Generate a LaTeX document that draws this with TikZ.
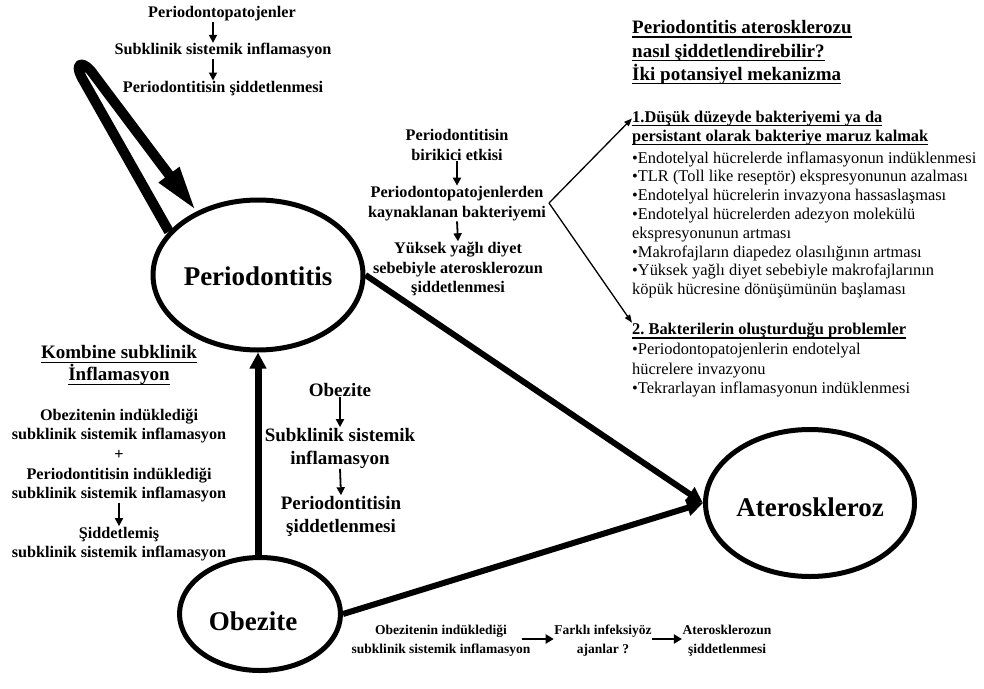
\documentclass[tikz,border=0pt]{standalone}
\usepackage{fontspec}
\setmainfont{Liberation Serif}
\usetikzlibrary{arrows.meta,shapes.geometric}
\frenchspacing
\newsavebox\ulbox
\newcommand\ulx[1]{\leavevmode\sbox\ulbox{#1}\rlap{\rule[-4.2pt]{\wd\ulbox}{1.5pt}}\usebox\ulbox}
\begin{document}
\begin{tikzpicture}[x=1pt,y=-1pt,
  lbl/.style={font=\fontsize{16.2}{19.6}\selectfont\bfseries, align=center, inner sep=0.5pt},
  lbls/.style={font=\fontsize{13.5}{19}\selectfont\bfseries, align=center, inner sep=0.5pt},
  lblm/.style={font=\fontsize{19}{23}\selectfont\bfseries, align=center, inner sep=0.5pt},
  hdl/.style={font=\fontsize{19}{22}\selectfont\bfseries, align=center, inner sep=0.5pt},
  hd/.style={font=\fontsize{19}{23}\selectfont\bfseries, inner sep=0pt, anchor=base west},
  item/.style={font=\fontsize{16.4}{19}\selectfont, inner sep=0pt, anchor=base west},
  itemb/.style={font=\fontsize{16.4}{19}\selectfont\bfseries, inner sep=0pt, anchor=base west},
  disease/.style={ellipse, draw, line width=5pt, inner sep=0pt, font=\fontsize{27}{30}\selectfont\bfseries, text depth=0pt},
  bigarr/.style={line width=6pt, -{Triangle[length=16pt,width=16pt]}},
  looparr/.style={line width=10pt, line join=round, -{Triangle[length=46pt,width=23pt]}},
  smallarr/.style={line width=1.8pt, -{Triangle[length=8pt,width=8pt]}},
  bracketarr/.style={line width=1.3pt, -{Triangle[length=8pt,width=6pt]}},
  botarr/.style={line width=2.6pt, -{Triangle[length=8pt,width=9pt]}}
]
\useasboundingbox (0,0) rectangle (984,688);

% main ellipses
\node[disease, minimum width=209pt, minimum height=150pt, text height=21pt] (per) at (258,275) {Periodontitis};
\node[disease, minimum width=161pt, minimum height=113pt, text height=32pt] (ob) at (260,614) {Obezite\kern14pt};
\node[disease, minimum width=209pt, minimum height=147pt, text height=27.4pt] (ath) at (810,503) {Ateroskleroz};

% main connectors
\draw[bigarr, line width=7pt] (ob.north -| per.south) -- (per.south);
\draw[bigarr] (per.east) -- (ath.west);
\draw[bigarr] (ob.east) -- (ath.west);
\draw[looparr] (per.154) -- (82,78) .. controls (73,61) and (84,60) .. (94,75) -- (per.134);

% top-left column
\node[lbl] (a1) at (222,14) {Periodontopatojenler};
\node[lbl] (a2) at (223,51) {Subklinik sistemik inflamasyon};
\node[lbl] (a3) at (223,88.5) {Periodontitisin şiddetlenmesi};
\draw[smallarr] ([xshift=-9pt]a1.south) -- ([xshift=-10pt]a2.north);
\draw[smallarr] ([xshift=-10pt]a2.south) -- ([xshift=-10pt]a3.north);

% middle upper column
\node[lbl] (g1) at (457,145) {Periodontitisin\\birikici etkisi};
\node[lbl] (g2) at (457,203.5) {Periodontopatojenlerden\\kaynaklanan bakteriyemi};
\node[lbl] (g3) at (458,269) {Yüksek yağlı diyet\\sebebiyle aterosklerozun\\şiddetlenmesi};
\draw[smallarr] (g1.south) -- (g2.north);
\draw[smallarr] (g2.south) -- (g3.north);

% middle lower column
\node[lblm] (c1) at (340,390) {Obezite};
\node[lblm] (c2) at (340,448) {Subklinik sistemik\\inflamasyon};
\node[lblm] (c3) at (341,516) {Periodontitisin\\şiddetlenmesi};
\draw[smallarr] (c1.south) -- (c2.north);
\draw[smallarr] (c2.south) -- (c3.north);

% left column
\node[hdl] (k1) at (119,365.5) {\ulx{Kombine subklinik}\\\ulx{İnflamasyon}};
\node[lbl] (k2) at (119,455.5) {Obezitenin indüklediği\\subklinik sistemik inflamasyon\\+\\Periodontitisin indüklediği\\subklinik sistemik inflamasyon};
\node[lbl] (k3) at (119,544) {Şiddetlemiş\\subklinik sistemik inflamasyon};
\draw[smallarr] (k2.south) -- (k3.north);

% bottom row
\node[lbls] (b1) at (441,641) {Obezitenin indüklediği\\subklinik sistemik inflamasyon};
\node[lbls] (b2) at (603,641) {Farklı infeksiyöz\\ajanlar ?};
\node[lbls] (b3) at (727,641) {Aterosklerozun\\şiddetlenmesi};
\draw[botarr] ([xshift=-9pt,yshift=2pt]b1.east) -- ([yshift=2pt]b2.west);
\draw[botarr] ([yshift=2pt]b2.east) -- ([yshift=2pt]b3.west);

% right heading
\node[hd] (h1) at (632,33.5) {\ulx{Periodontitis aterosklerozu}};
\node[hd] (h2) at (632,57) {\ulx{nasıl şiddetlendirebilir?}};
\node[hd] (h3) at (632,80) {\ulx{İki potansiyel mekanizma}};

% mechanism list
\node[itemb] (m1a) at (632,122) {\ulx{1.Düşük düzeyde bakteriyemi ya da}};
\node[itemb] (m1b) at (632,141) {\ulx{persistant olarak bakteriye maruz kalmak}};
\foreach \yy/\tx [count=\i] in {
  163/{•Endotelyal hücrelerde inflamasyonun indüklenmesi},
  181.8/{•TLR (Toll like reseptör) ekspresyonunun azalması},
  200.6/{•Endotelyal hücrelerin invazyona hassaslaşması},
  219.4/{•Endotelyal hücrelerden adezyon molekülü},
  238.2/{ekspresyonunun artması},
  257/{•Makrofajların diapedez olasılığının artması},
  275.8/{•Yüksek yağlı diyet sebebiyle makrofajlarının},
  294.6/{köpük hücresine dönüşümünün başlaması}}
  \node[item] (r\i) at (632,\yy) {\tx};
\node[itemb] (m2) at (632,334.5) {\ulx{2. Bakterilerin oluşturduğu problemler}};
\foreach \yy/\tx [count=\i] in {
  354.5/{•Periodontopatojenlerin endotelyal},
  374/{hücrelere invazyonu},
  393.5/{•Tekrarlayan inflamasyonun indüklenmesi}}
  \node[item] (s\i) at (632,\yy) {\tx};

% bracket
\coordinate (br) at (549,203);
\draw[bracketarr] (br) -- (m1a.west);
\draw[bracketarr] (br) -- (m2.north west);
\end{tikzpicture}
\end{document}
